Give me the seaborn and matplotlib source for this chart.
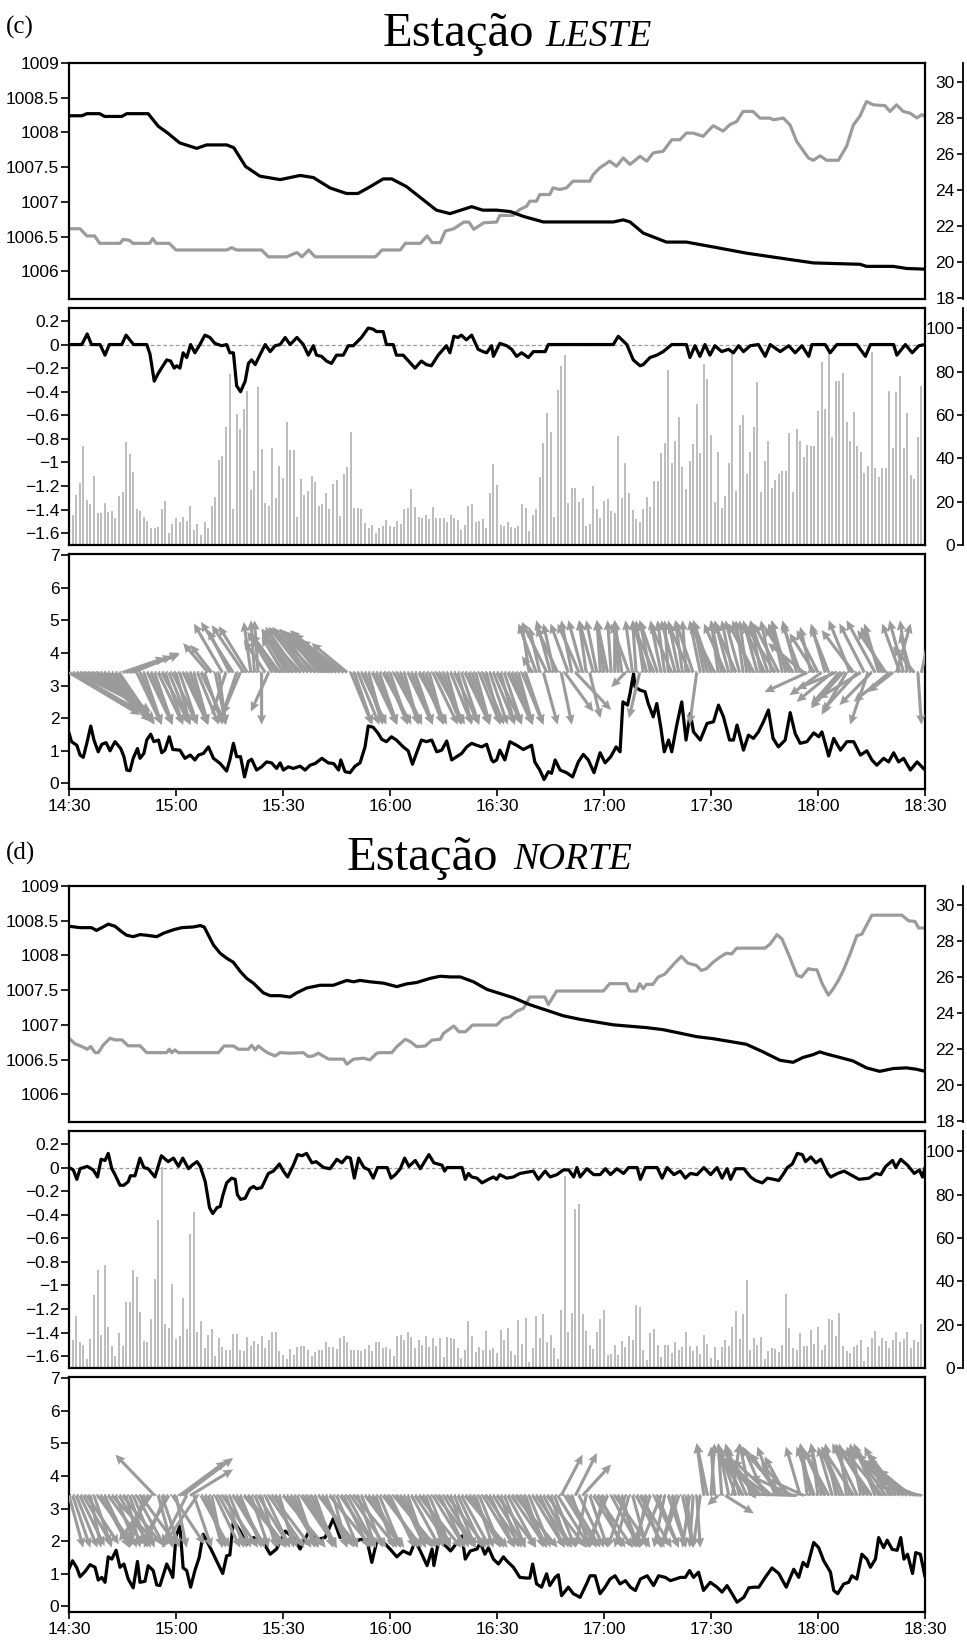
import numpy as np
import matplotlib
matplotlib.use("Agg")
import matplotlib.pyplot as plt
import seaborn as sns
from matplotlib.ticker import FuncFormatter

# ---------------------------------------------------------------- time axis
TIME_TICKS = [0, 30, 60, 90, 120, 150, 180, 210, 240]       # minutes after 14:30
TIME_LABELS = ["14:30", "15:00", "15:30", "16:00", "16:30", "17:00", "17:30", "18:00", "18:30"]
BAR_T = list(range(1, 240))            # one bar per minute
ARROW_T_EVEN = list(range(0, 240, 2))  # wind vectors on even minutes
ARROW_T_ODD = list(range(1, 240, 2))   # wind vectors on odd minutes

# ================================================================ LESTE
LESTE_P_T = [0, 3.6, 5, 8.6, 10, 14.8, 16.2, 22.2, 25, 27.7, 31, 35.8, 38.6, 44.2, 46.2, 49.5, 53.5, 59.2,
             64.8, 68.5, 73.2, 77.8, 81, 84.5, 88.1, 90.5, 94.6, 99.3, 103, 106.8, 112.9, 116, 119.9, 123.7,
             127.4, 133, 152.6, 155.4, 157.3, 161, 167.5, 173.1, 180.6, 190, 199.3, 208.7, 221.8, 223.6,
             231.1, 234.8, 240]
LESTE_P = [1008.24, 1008.24, 1008.27, 1008.27, 1008.23, 1008.23, 1008.27, 1008.27, 1008.09, 1007.99, 1007.85,
           1007.77, 1007.82, 1007.82, 1007.78, 1007.51, 1007.37, 1007.32, 1007.38, 1007.35, 1007.20, 1007.12,
           1007.12, 1007.22, 1007.33, 1007.33, 1007.22, 1007.03, 1006.88, 1006.83, 1006.93, 1006.88, 1006.88,
           1006.86, 1006.79, 1006.71, 1006.71, 1006.74, 1006.71, 1006.55, 1006.42, 1006.42, 1006.35, 1006.26,
           1006.19, 1006.12, 1006.10, 1006.07, 1006.07, 1006.04, 1006.03]

LESTE_T_T = [0, 3.1, 5, 7.2, 8.6, 14.3, 15.2, 17, 17.9, 22.6, 23.5, 24.4, 28.1, 30, 44.2, 45.6, 47, 54, 55.9,
             61, 63.9, 65.3, 67.2, 69, 85.9, 87.8, 92.9, 94.3, 98.5, 100.4, 101.8, 104.1, 105.5, 107.9, 110.7,
             112.1, 113.5, 116.3, 119.9, 120.8, 124.5, 126.4, 128.3, 129.2, 131.1, 132, 134.8, 135.7, 137.6,
             139.5, 141.3, 146, 147, 148.8, 151.6, 153.5, 155.4, 157.3, 160.1, 162, 163.8, 166.6, 169, 171.3,
             173.1, 175, 177.8, 180.6, 183.4, 185.3, 187.2, 189, 191.8, 193.7, 196.5, 197.5, 200.3, 202.2, 204,
             207.3, 208.7, 210.6, 212.4, 215.7, 218, 219.9, 221.8, 223.6, 225.5, 228.8, 230.2, 232, 233.9,
             235.8, 237.7, 239.1, 240]
LESTE_TEMP = [21.85, 21.85, 21.45, 21.45, 21.04, 21.04, 21.26, 21.2, 21.04, 21.04, 21.3, 21.04, 21.04, 20.67,
              20.67, 20.8, 20.67, 20.67, 20.29, 20.29, 20.53, 20.29, 20.67, 20.29, 20.29, 20.67, 20.67, 21.04,
              21.04, 21.45, 21.08, 21.08, 21.72, 21.85, 22.22, 22.22, 21.82, 22.18, 22.22, 22.59, 22.59, 22.92,
              23.10, 23.38, 23.38, 23.75, 23.75, 24.12, 24.03, 24.12, 24.49, 24.49, 24.86, 25.23, 25.60, 25.32,
              25.78, 25.42, 25.87, 25.60, 26.06, 26.15, 26.79, 26.79, 27.16, 27.16, 26.98, 27.57, 27.27, 27.63,
              27.80, 28.36, 28.36, 27.99, 27.99, 27.90, 27.99, 27.60, 26.70, 25.78, 25.65, 25.90, 25.65, 25.65,
              26.42, 27.60, 28.12, 28.91, 28.73, 28.68, 28.36, 28.73, 28.36, 28.27, 28.00, 28.18, 28.09]

LESTE_DP_T = [0, 3.6, 5.1, 6.3, 8.7, 10.1, 11.3, 14.8, 16, 18.1, 21.8, 22.7, 23.9, 25.1, 27.4, 28.5, 29.5, 30.2,
              31.1, 32, 33, 34.1, 35.3, 36.7, 38.1, 39.5, 40.9, 42.8, 44.2, 45.1, 46.1, 47, 48.1, 49.4, 50.3,
              51.2, 52.2, 53.5, 55, 56.4, 57.8, 59.2, 60.6, 62, 63.9, 65.7, 67.1, 68.5, 69.4, 70.8, 72.2, 73.6,
              75, 76.9, 78.3, 79.7, 82, 83.9, 85.3, 86.2, 88.1, 89, 90.9, 91.8, 93.7, 97, 98.8, 100.2, 101.6,
              103.5, 105.8, 106.8, 107.9, 109.1, 110, 111.4, 112.9, 114.7, 116.1, 117.1, 118.5, 119, 120.8,
              122.7, 124.1, 125.5, 126.9, 128.8, 130.2, 132.1, 133.5, 134.4, 152.6, 154, 156.4, 158.2, 160.1,
              161, 162.9, 164.8, 166.6, 169, 173.1, 174.1, 175.5, 176.9, 178.3, 179.7, 181.1, 183, 184.9, 186.3,
              187.7, 189.1, 191, 193.3, 195.2, 196.6, 199.4, 201.8, 203.6, 205.5, 207.4, 208.3, 212, 213.4,
              215.3, 220.9, 223.3, 224.7, 231.2, 232.1, 234.5, 236.4, 238.3, 240]
LESTE_DP = [0, 0, 0.09, 0, 0, -0.09, 0, 0, 0.08, 0, 0, -0.08, -0.31, -0.24, -0.13, -0.14, -0.20, -0.18, -0.20,
            -0.07, -0.11, 0, -0.07, 0, 0.08, 0.06, 0.01, -0.01, 0, -0.07, -0.07, -0.35, -0.40, -0.31, -0.16,
            -0.13, -0.17, -0.09, 0, -0.06, -0.01, 0, 0.06, 0, 0.06, 0, -0.09, -0.01, -0.09, -0.10, -0.14, -0.16,
            -0.09, -0.09, -0.01, -0.01, 0.06, 0.14, 0.13, 0.11, 0.11, 0, 0, -0.09, -0.09, -0.20, -0.14, -0.17,
            -0.18, -0.09, -0.01, -0.07, 0.07, 0.06, 0.08, 0.04, 0.08, -0.04, -0.06, -0.07, -0.01, -0.10, 0.01,
            -0.01, -0.04, -0.10, -0.07, -0.11, -0.06, -0.06, -0.06, 0, 0, 0.07, 0, -0.13, -0.18, -0.17, -0.11,
            -0.09, -0.06, 0, 0, -0.11, -0.01, -0.10, 0, -0.09, -0.01, -0.06, -0.04, -0.07, -0.01, -0.06, -0.01,
            0, -0.10, 0, -0.06, -0.01, -0.07, -0.01, -0.10, 0, 0, -0.07, 0, 0, -0.10, 0, 0, -0.09, 0, -0.07,
            -0.01, 0]

LESTE_BARS = [13.8, 23, 28.8, 45.8, 20.8, 18.9, 32, 14.6, 15, 19.2,
              15.4, 15.8, 12.3, 22.8, 24.3, 47.4, 41.8, 33.5, 16.6, 15.8,
              12.8, 11, 8, 8, 8.2, 16.6, 20.3, 5.4, 9.5, 12.6,
              10.8, 13, 11.2, 18, 6.9, 9.7, 4.6, 10.5, 7.7, 18,
              22.3, 39.2, 41, 54.6, 78.8, 16.6, 60.3, 53.4, 62.8, 71.2,
              25.4, 34.2, 72.8, 44.3, 19.5, 18, 44.9, 21.5, 36.6, 30.8,
              56.9, 43.8, 43.8, 13, 30.5, 23, 25, 31.8, 29.2, 18.2,
              18.9, 23.8, 16.6, 28, 30, 13.4, 32.8, 36.2, 52, 16.9,
              16.9, 16.5, 10.3, 7.7, 9.2, 5.4, 7.7, 8.9, 11.5, 8.9,
              8.5, 11.2, 9.5, 16.5, 16.9, 25.7, 17.4, 13, 12.3, 13.8,
              12, 17.4, 12.3, 12.3, 12.3, 10.8, 13.8, 12.3, 11.5, 6.9,
              9.2, 18, 18.8, 10.8, 11.2, 11.8, 8, 23.8, 37.2, 27.5,
              9.2, 8.8, 10.8, 8.5, 7.7, 8.8, 18.8, 16.9, 6.5, 13.8,
              16.5, 31.5, 46.9, 60.8, 52, 13, 71.5, 82.6, 87.7, 19.5,
              26.5, 26.2, 20, 21.5, 8.9, 9.7, 27.2, 16.6, 12.3, 20.3,
              21.1, 15.8, 15, 50.3, 21.8, 37.7, 24.2, 16.2, 11.8, 10.8,
              16.6, 22, 17.7, 29.7, 29.5, 42.6, 47.2, 80.8, 38, 48,
              59.2, 36.2, 25.7, 38.8, 46.6, 64.9, 42.6, 83.5, 76.6, 50.8,
              19.7, 42.8, 16.9, 22.8, 37.7, 89.2, 25.1, 55.4, 60, 32.6,
              43.1, 54.3, 75.4, 24.6, 38.9, 48.2, 26.5, 30, 32.8, 34.3,
              34.3, 51.5, 24.3, 53.4, 48, 40.5, 46.2, 45.7, 45.8, 61.8,
              84.6, 62.6, 89.2, 50, 75.8, 75.7, 79.5, 56.6, 48, 61.2,
              45.8, 43.1, 33.1, 36.6, 89.2, 35.7, 31.2, 35.4, 35.4, 71.2,
              44.9, 70.5, 78.2, 44.6, 60.8, 32.3, 30.3, 49.7, 73.4]

LESTE_WS_T = [0, 0.7, 2.2, 3.1, 4, 5.1, 6.1, 7, 8.2, 9.2, 10.4, 11.5, 12.9, 14.5, 15.4, 16.2, 17.1, 18, 19.2,
              19.9, 21, 21.8, 22.9, 23.8, 25.1, 26, 26.9, 28.1, 29.1, 31.1, 32.5, 34, 35.3, 36.3, 37.7, 39.1,
              40.5, 42.4, 44.2, 45.1, 46.1, 47, 48.1, 49.2, 50.3, 51.2, 52.6, 54, 55.4, 56.8, 58.2, 59.2, 60.1,
              61.5, 62.9, 64.8, 66.2, 67.6, 69, 70.9, 72.7, 74.2, 75.6, 76.2, 77.4, 78.8, 80.2, 81.6, 83, 83.9,
              85.3, 86.7, 87.7, 89, 90.4, 91.8, 93.7, 95.1, 96.3, 97.4, 98.8, 100.2, 101.7, 103.1, 104.5, 105.9,
              107.3, 108.7, 110.1, 111.5, 112.9, 114.3, 115.7, 117.1, 118.5, 119, 119.9, 120.8, 122.2, 123.6,
              125.5, 127.4, 129.7, 130.6, 132, 133.2, 134.4, 135.3, 136.3, 137.7, 139.5, 141.2, 142.8, 144.2,
              145.6, 147.2, 148.9, 150.3, 151.9, 153.4, 154.5, 155.3, 156.6, 157.3, 158.3, 158.7, 160.1, 161.5,
              162.4, 163.8, 164.8, 165.9, 166.9, 168.1, 169, 170.4, 171.8, 173, 174.2, 175.1, 177, 178.9,
              180.7, 182.1, 183.5, 185.2, 186.3, 187.3, 189.1, 190.5, 191.9, 193.3, 194.7, 196.1, 197.4, 198.9,
              200.8, 202.2, 203.6, 205, 206.9, 208.8, 210.2, 211.1, 213, 214.4, 216.3, 218.1, 220, 221.9, 223.7,
              225.1, 226.5, 228.4, 229.8, 231.2, 232.6, 234, 235.9, 237.8, 240]
LESTE_WS = [1.55, 1.28, 1.17, 0.87, 0.80, 1.28, 1.76, 1.33, 0.97, 1.20, 1.25, 1.00, 1.28, 1.07, 0.82, 0.41,
            0.39, 0.77, 1.07, 0.77, 0.92, 1.33, 1.51, 1.28, 1.33, 0.94, 1.02, 1.43, 1.04, 1.02, 0.77, 0.87,
            0.72, 0.87, 0.92, 1.12, 0.77, 0.61, 0.38, 0.72, 1.23, 0.82, 0.82, 0.20, 0.68, 0.74, 0.41, 0.51,
            0.66, 0.63, 0.46, 0.63, 0.41, 0.51, 0.46, 0.53, 0.41, 0.56, 0.61, 0.77, 0.63, 0.61, 0.41, 0.72,
            0.36, 0.33, 0.53, 0.63, 1.12, 1.76, 1.72, 1.53, 1.35, 1.28, 1.43, 1.33, 1.12, 1.00, 0.59, 0.92,
            1.33, 1.28, 1.33, 0.97, 1.02, 1.30, 0.72, 0.82, 0.92, 1.12, 1.23, 1.17, 1.12, 1.20, 0.72, 0.66,
            0.72, 1.02, 0.72, 1.28, 1.17, 1.04, 1.17, 0.66, 0.41, 0.12, 0.36, 0.31, 0.72, 0.41, 0.33, 0.20,
            0.66, 0.89, 0.72, 0.33, 0.94, 0.63, 0.82, 1.12, 0.97, 2.50, 2.40, 2.76, 3.37, 2.96, 2.86, 2.81,
            2.45, 2.04, 2.45, 1.74, 0.97, 1.33, 0.97, 1.79, 2.50, 1.33, 2.15, 1.58, 1.33, 1.84, 1.89, 2.40,
            2.04, 1.33, 1.33, 1.79, 1.02, 1.48, 1.38, 1.58, 1.89, 2.25, 1.38, 1.12, 1.33, 2.17, 1.53, 1.23,
            1.28, 1.55, 1.43, 1.58, 0.84, 1.38, 1.02, 1.28, 1.28, 0.87, 1.00, 0.72, 0.56, 0.77, 0.66, 0.94,
            0.66, 0.77, 0.41, 0.66, 0.41]

# wind vector components (dx in minutes, dy in panel units), even minutes
LESTE_U = [20, 18, 16, 17, 15, 13, 12, 10, 13, 13, 6, 7, 5, 8, 6, 4, 7, 5, 6, 5,
           -6, 2, -4, -9, -5, -8, -1, 0, -5, -7, -6, -8, -9, -10, -9, -10, -11, -12, -13, -10,
           5, 7, 4, 6, 8, 5, 7, 4, 6, 8, 5, 7, 6, 4, 7, 5, 6, 4, 6, 5,
           7, 5, 6, 4, 5, -3, -3, -7, -3, 3, -5, 10, -4, 3, -3, -2, -1, -1, -4, -2,
           -3, -4, -6, -3, -1, -4, -2, -6, -2, -3, -5, -2, -6, -3, -4, -2, -7, -3, -5, -8,
           -3, -6, -4, -10, -3, -6, -4, -10, -8, -7, -9, -12, -5, -8, -6, -10, 4, -4, -3, 1]
LESTE_V = [-1.3, -1.0, -0.9, -1.2, -1.5, -1.4, -1.5, -1.6, 0.5, 0.6, -1.6, -1.6, -1.6, -1.6, -1.6, -1.6, -1.6,
           -1.6, -1.6, -1.6,
           0.85, -1.6, -1.3, 1.55, -1.3, 1.42, 1.6, -1.6, -1.2, 1.2, 1.1, 1.3, 1.4, 1.4, 1.35, 1.3, 1.2, 1.3,
           1.2, 0.9,
           -1.6, -1.6, -1.6, -1.6, -1.6, -1.6, -1.6, -1.6, -1.6, -1.6, -1.6, -1.6, -1.6, -1.6, -1.6, -1.6,
           -1.6, -1.6, -1.6, -1.6,
           -1.6, -1.6, -1.6, -1.6, -1.6, 0.5, 1.4, 1.55, 1.5, -1.6, 1.5, -1.15, 1.6, -1.4, 1.6, 1.6, 1.6, 1.6,
           -0.45, 1.6,
           -1.4, 1.6, 1.5, 1.6, 1.6, 1.6, 1.6, 1.5, -1.6, 1.6, 1.6, 1.6, 1.5, 1.6, 1.6, 1.6, 1.5, 1.6, 1.6, 1.4,
           1.6, 1.5, 1.6, 0.9, 1.4, 1.3, 1.5, -0.9, -1.0, -1.3, 1.3, -0.8, -1.6, 1.6, 1.4, -0.9, 1.5, 1.6, 1.2,
           -1.6]
# odd minutes
LESTE_U_ODD = [19, 17, 16, 16, 14, 12, 11, 12, 14, 7, 5, 6, 7, 5, 7, 5, 6, 4, 7, -7,
               3, -8, -6, -4, -9, -2, -1, -6, -7, -8, -7, -9, -11, -10, -11, -12, -11, -14, -12, 6,
               6, 5, 7, 5, 6, 8, 5, 7, 5, 6, 4, 8, 5, 6, 4, 7, 5, 6, 4, 6,
               4, 7, 5, 6, -2, -5, 4, -4, -6, 8, -3, -6, -2, -4, -1, -3, 0, -2, -5, -1,
               -2, -3, -5, -2, -6, -3, -1, -5, -3, -4, -7, -3, -4, -6, -2, -5, -4, -6, -3, -7,
               -4, -8, -5, -12, -7, -9, -5, -11, -9, -6, -10, -7, -9, -4, -8, -7, -5, -2, -6, 3]
LESTE_V_ODD = [-1.2, -0.95, -1.1, -1.4, -1.5, -1.45, -1.55, 0.45, 0.55, -1.6, -1.6, -1.6, -1.6, -1.6, -1.6,
               -1.6, -1.6, -1.6, -1.6, 0.9,
               -1.6, 1.5, 1.3, -1.3, 1.45, 1.55, 1.6, 1.0, 1.25, 1.2, 1.3, 1.35, 1.3, 1.4, 1.25, 1.3, 1.2, 1.25,
               1.0, -1.6,
               -1.6, -1.6, -1.6, -1.6, -1.6, -1.6, -1.6, -1.6, -1.6, -1.6, -1.6, -1.6, -1.6, -1.6, -1.6, -1.6,
               -1.6, -1.6, -1.6, -1.6,
               -1.6, -1.6, -1.6, -1.6, 1.5, 1.5, -1.6, 1.6, 1.4, -1.2, 1.6, 1.5, 1.6, 1.6, 1.6, 1.6, 1.6, 1.6,
               1.5, 1.6,
               1.6, 1.6, 1.6, 1.6, 1.5, 1.6, 1.6, 1.6, 1.6, 1.6, 1.5, 1.6, 1.6, 1.5, 1.6, 1.6, 1.6, 1.5, 1.6, 1.5,
               1.6, 1.4, 1.5, -0.6, 1.2, -0.7, 1.4, -0.5, -1.1, 1.6, -1.2, 1.5, -1.0, 1.5, 1.3, -0.6, 1.5, 1.6,
               0.8, 1.5]

# ================================================================ NORTE
NORTE_P_T = [0, 3.1, 6.3, 7.7, 9.2, 11, 12.9, 14.8, 16.2, 18, 19.9, 21.8, 24.6, 26.5, 29.3, 31.6, 34.9, 36.8,
             37.9, 39.1, 40.5, 42.4, 44.2, 46.1, 48, 49.8, 51.7, 54.5, 56.4, 59.2, 62, 63.8, 66.6, 70.4, 74.1,
             77.9, 79.8, 81.6, 84.4, 88.2, 91.9, 94.7, 97.5, 101.3, 104.1, 106.9, 109.7, 113.4, 117.2, 120.9,
             124.6, 129.2, 133.9, 138.6, 143.2, 147.9, 152.6, 157.2, 161.9, 166.6, 171.3, 175.9, 180.6, 185.3,
             189.9, 194.6, 199.3, 203, 205.8, 208.6, 210.5, 212.4, 216.1, 219.8, 223.6, 227.3, 231.1, 234.8,
             237.6, 240]
NORTE_P = [1008.42, 1008.40, 1008.40, 1008.36, 1008.40, 1008.45, 1008.42, 1008.34, 1008.29, 1008.27, 1008.30,
           1008.29, 1008.27, 1008.32, 1008.37, 1008.40, 1008.41, 1008.43, 1008.41, 1008.29, 1008.15, 1008.03,
           1007.96, 1007.90, 1007.77, 1007.67, 1007.60, 1007.46, 1007.42, 1007.42, 1007.40, 1007.46, 1007.53,
           1007.57, 1007.57, 1007.64, 1007.62, 1007.64, 1007.62, 1007.60, 1007.55, 1007.59, 1007.61, 1007.67,
           1007.70, 1007.69, 1007.69, 1007.62, 1007.51, 1007.45, 1007.39, 1007.29, 1007.21, 1007.13, 1007.08,
           1007.04, 1007.00, 1006.98, 1006.96, 1006.93, 1006.88, 1006.83, 1006.80, 1006.76, 1006.72, 1006.61,
           1006.49, 1006.46, 1006.53, 1006.57, 1006.61, 1006.58, 1006.53, 1006.48, 1006.38, 1006.33, 1006.37,
           1006.38, 1006.36, 1006.33]

NORTE_T_T = [0, 1.7, 3.6, 5.1, 6.1, 7.3, 8.2, 9.6, 11.5, 12.9, 14.8, 16.6, 19.9, 21.8, 27.4, 28.1, 28.8, 29.7,
             30.7, 41.9, 43.5, 46.1, 47.5, 50.3, 51.2, 52.2, 53.1, 54.5, 55.9, 57.8, 59.2, 62, 65.7, 67.1, 68.5,
             69.9, 72.8, 77, 77.9, 79.8, 82.6, 84.4, 86.3, 87.3, 90.5, 91.9, 94.3, 95.7, 97.5, 99.9, 101.8,
             104.1, 105, 107.9, 109.3, 111.2, 113.1, 115.2, 119.9, 121.8, 123.6, 125.5, 127.4, 129.2, 133.4,
             134.4, 136.7, 149.8, 151.6, 156.3, 157.2, 159.1, 160, 161, 161.9, 163.7, 165.2, 167, 168.4, 169.8,
             171.7, 173.5, 175.9, 177.3, 178.7, 180.6, 182.5, 184.3, 185.8, 187.2, 195.1, 196.6, 198.5, 199.9,
             201.7, 204.1, 205.4, 207.3, 208.7, 209.7, 211.1, 212.9, 214.3, 215.7, 217.1, 219, 220.9, 222.3,
             225.1, 233.5, 235.4, 237.2, 238.2, 240]
NORTE_TEMP = [22.60, 22.29, 22.14, 21.99, 22.14, 21.80, 21.80, 22.22, 22.60, 22.51, 22.51, 22.18, 22.18, 21.80,
              21.80, 21.99, 21.80, 21.95, 21.80, 21.80, 22.17, 22.17, 21.99, 21.99, 22.21, 21.95, 22.17, 21.95,
              21.77, 21.62, 21.80, 21.77, 21.80, 21.58, 21.62, 21.77, 21.44, 21.44, 21.16, 21.44, 21.49, 21.40,
              21.77, 21.80, 21.80, 22.13, 22.54, 22.41, 22.13, 22.17, 22.50, 22.54, 22.87, 23.28, 22.96, 22.96,
              23.33, 23.33, 23.33, 23.70, 23.79, 24.10, 24.25, 24.89, 24.89, 24.47, 25.22, 25.22, 25.63, 25.63,
              25.22, 25.22, 25.63, 25.35, 25.59, 25.59, 26.00, 26.15, 26.46, 26.77, 27.14, 26.77, 26.64, 26.36,
              26.46, 26.82, 27.10, 27.32, 27.28, 27.60, 27.60, 27.83, 28.35, 28.11, 27.28, 26.09, 26.00, 26.46,
              26.40, 26.40, 25.66, 24.99, 25.35, 25.81, 26.36, 27.28, 28.29, 28.38, 29.43, 29.43, 29.12, 29.08,
              28.72, 28.72]

NORTE_DP_T = [0, 1.2, 2.2, 3.1, 5.1, 6.8, 8, 9, 10.1, 11, 12, 12.9, 14.3, 15.4, 16.6, 17.2, 18.5, 19.9, 21,
              22.2, 24.1, 25.9, 27.8, 29.3, 30.7, 31.9, 33.5, 34.5, 35.9, 36.8, 38.2, 39.4, 40.3, 41.5, 42.4,
              43.1, 44.2, 45.6, 46.6, 47.2, 48.1, 49.4, 50.7, 51.7, 52.6, 54, 55.9, 57.3, 59, 60.1, 61.3, 62.9,
              64.1, 65.3, 66.6, 68.1, 69.3, 71.4, 73.2, 75.1, 76.5, 77.9, 78.9, 80, 81.2, 82.7, 84.1, 85.3,
              86.5, 89.2, 90.3, 91.5, 92.9, 94.1, 95.3, 97.1, 98.5, 100.9, 102.3, 104.6, 105.3, 106, 110.2,
              111.1, 112, 112.9, 114.4, 115.8, 117.6, 119, 119.9, 120.8, 122.7, 124.6, 126.4, 128.3, 130.2,
              131.6, 133.5, 134.9, 136.8, 138.6, 140.1, 141.5, 142.4, 143.3, 145.2, 147.1, 148.9, 150.4, 151.8,
              153.6, 155.5, 156.9, 159.3, 160.2, 161.6, 164.9, 166.3, 167.7, 169.6, 171.4, 172.8, 174.2, 176.1,
              178, 179.9, 181.7, 183.1, 184.5, 185.5, 186.9, 189.2, 191.1, 192.5, 194.4, 195.8, 197.6, 199,
              200.4, 201.4, 202.8, 204.2, 205.6, 206.5, 208, 209.4, 210.8, 212.7, 213.6, 215.5, 217.3, 219.7,
              221.5, 224.3, 226.2, 227.6, 229, 230.9, 231.8, 233.2, 235.1, 237, 238.4, 239.3, 240]
NORTE_DP = [0, -0.02, -0.10, -0.01, 0.01, -0.02, -0.08, 0.07, 0.06, 0.12, -0.01, -0.06, -0.15, -0.15, -0.12,
            -0.07, -0.07, 0.08, 0, -0.01, -0.08, 0.10, 0.05, 0.08, 0.01, 0.08, -0.01, 0.02, 0.05, 0.01, -0.12,
            -0.34, -0.39, -0.34, -0.33, -0.24, -0.13, -0.09, -0.10, -0.23, -0.27, -0.26, -0.18, -0.16, -0.18,
            -0.17, -0.05, -0.03, 0.03, -0.03, -0.08, 0.02, 0.11, 0.10, 0.12, 0.04, 0.05, 0, -0.01, 0.07, 0.04,
            0.09, 0.08, -0.09, 0.08, 0, -0.02, -0.09, 0, 0, -0.09, -0.06, -0.01, 0.08, 0.01, 0.06, -0.01, 0.11,
            0.04, 0.02, -0.03, 0, 0, -0.10, -0.05, -0.08, -0.09, -0.13, -0.10, -0.08, -0.10, -0.06, -0.09,
            -0.08, -0.05, -0.04, -0.03, -0.10, -0.03, -0.08, -0.06, -0.02, -0.02, -0.08, 0, -0.08, -0.01,
            -0.06, -0.06, -0.01, -0.06, -0.01, -0.05, 0, 0, -0.10, 0, 0, -0.09, 0, -0.06, -0.03, -0.09, -0.05,
            -0.06, 0, -0.06, 0, -0.09, -0.01, -0.10, -0.01, -0.01, -0.08, -0.11, -0.13, -0.09, -0.10, -0.11,
            -0.05, 0, 0.03, 0.12, 0.11, 0.05, 0.09, 0.04, 0.07, -0.05, -0.08, -0.05, -0.03, -0.07, -0.10,
            -0.09, -0.05, -0.06, 0.01, 0.06, 0, 0.07, 0.02, -0.05, -0.02, -0.08, 0]

NORTE_BARS = [13.1, 24.2, 11.9, 10.8, 4.2, 13.4, 33.5, 45.2, 15.1, 47.5,
              19, 10.3, 5.7, 16.2, 10.3, 30.4, 30.4, 45.1, 42.1, 25.9,
              12.3, 12, 22.8, 40.9, 68.2, 92.9, 20.5, 18.5, 38.9, 13.6,
              15, 32.4, 18.1, 61.7, 71.8, 16.7, 21.6, 9.3, 15.4, 18.2,
              5.4, 13.9, 9.7, 8.5, 8.2, 15.9, 15.7, 8.5, 7.7, 14.4,
              10, 12.3, 11.3, 15, 9.3, 13.1, 16.5, 16.5, 7.7, 6.2,
              4.2, 8.8, 6.2, 9.7, 10.3, 10, 8.5, 5.4, 7.4, 8.5,
              8.2, 12, 9.6, 9.6, 8.8, 13.9, 15, 11.9, 8.2, 8.2,
              8.5, 7.7, 8.8, 10.5, 7.7, 12, 12, 9.3, 9.7, 8.8,
              5.4, 15, 15.1, 12.8, 16.7, 14.2, 9.3, 13.1, 10.8, 14.7,
              9.7, 13.9, 10.3, 13.9, 5.1, 14.2, 13.9, 13.4, 9.3, 4.6,
              8.5, 21.6, 15, 7.3, 9.7, 8.5, 17.3, 8.2, 9.3, 6.9,
              17.4, 13.1, 18.5, 7.7, 5.9, 22.1, 11.3, 23.1, 3, 9.3,
              23.9, 13.9, 24.7, 12, 15.4, 9.3, 4.2, 27, 88.7, 16.7,
              25.2, 73.6, 75.6, 24.7, 17.3, 10.8, 8.8, 16.5, 22.4, 27,
              6.2, 6.5, 10.5, 6.2, 12.3, 9.6, 15, 12.8, 29.3, 28.2,
              8.5, 3.5, 16.2, 18.2, 10.5, 5.1, 10.8, 10.8, 6.9, 11.9,
              8.5, 9.6, 16.7, 10.3, 7.7, 10, 6.5, 15.1, 11.3, 4.6,
              9.6, 3.5, 9.6, 13.1, 10.3, 19, 26.2, 13.6, 24.7, 40.4,
              8.2, 13.9, 10.8, 14.4, 4.2, 7.7, 9.3, 9, 7.3, 10.8,
              34, 18.5, 9.3, 8.5, 16.2, 10.3, 10.3, 17.7, 11.3, 19,
              8.5, 10.8, 22.7, 22.1, 15, 25.2, 10.3, 7.7, 6.9, 9.6,
              10.8, 13.1, 3.1, 9.6, 13.9, 17, 10.3, 13.9, 12.3, 9.3,
              13.1, 16.7, 11.9, 13.4, 16.7, 9.3, 12.8, 11.9, 20.1]

NORTE_WS_T = [0, 1, 2.2, 3.1, 4.5, 5.9, 7.3, 8.2, 9.2, 10.1, 11, 12, 13.2, 14.3, 15.4, 16.6, 18, 19.2, 19.9,
              21.3, 22.2, 23.6, 24.6, 25.5, 27.4, 28.3, 29.1, 30, 31.1, 32, 33, 34.1, 35.3, 36.5, 37.6, 39.1,
              40.5, 41.8, 43.1, 44.2, 45.1, 46.1, 48, 49.8, 51.7, 54.5, 56.4, 58.2, 60.6, 62.9, 64.8, 67.1,
              69.4, 71.8, 74.1, 76, 77.8, 79.7, 81.6, 83.5, 84.9, 86.3, 88.2, 90, 91.9, 93.7, 95.6, 97.1, 98.5,
              100.4, 101.8, 102.3, 103.7, 105.1, 107, 108.8, 110.2, 111.1, 112.5, 114.4, 115.3, 116.6, 117.6,
              119, 120.4, 121.8, 122.7, 124.6, 126.4, 128.3, 129.2, 130, 131.1, 132.5, 133.9, 134.8, 136.3,
              137.2, 138.1, 140, 141.4, 143.3, 145.1, 146.1, 147.5, 148.9, 150.3, 151.7, 153.1, 154.5, 156,
              157.4, 158.8, 160.2, 162.1, 163.9, 165.3, 167.2, 168.6, 170, 171.4, 172.8, 174, 175.1, 176.5,
              177.9, 179.8, 181.7, 183.1, 184.5, 185.9, 187.3, 189.2, 190.6, 192, 193.4, 195.2, 197.1, 199,
              201.1, 203.2, 204.6, 205.8, 207, 208.8, 210.2, 211.6, 213.5, 214.4, 215.5, 217.2, 218.6, 219.5,
              220.9, 222.3, 223.7, 224.7, 226.1, 227, 228.4, 229.4, 230.8, 232.2, 233.2, 234.1, 235.1, 236.5,
              237.4, 238.7, 240]
NORTE_WS = [1.15, 1.40, 1.18, 0.91, 1.07, 1.28, 1.20, 0.81, 0.89, 0.74, 1.52, 1.45, 1.72, 1.20, 1.30, 0.84,
            0.57, 1.38, 0.74, 0.77, 1.25, 1.10, 0.66, 0.64, 1.30, 1.10, 0.89, 2.16, 2.46, 1.18, 1.10, 0.59,
            1.10, 1.50, 2.21, 1.91, 1.60, 1.30, 1.01, 1.55, 1.58, 2.62, 2.31, 1.91, 2.11, 1.96, 1.60, 1.76,
            2.31, 2.11, 1.76, 2.26, 2.05, 2.11, 2.69, 2.11, 2.26, 1.96, 2.05, 2.05, 1.35, 2.00, 1.96, 1.76,
            1.52, 1.70, 1.60, 2.00, 1.70, 1.25, 1.76, 1.25, 2.05, 1.91, 1.70, 1.96, 2.16, 1.45, 1.70, 1.76,
            1.96, 1.60, 1.80, 1.45, 1.30, 1.52, 1.40, 1.20, 0.89, 0.87, 0.87, 1.30, 0.69, 0.59, 1.00, 0.64,
            0.89, 0.97, 0.33, 0.59, 0.39, 0.28, 0.69, 0.94, 0.94, 0.39, 0.59, 0.84, 0.94, 0.69, 0.79, 0.59,
            0.49, 0.84, 0.94, 0.64, 0.94, 0.89, 0.79, 0.84, 0.89, 0.89, 1.10, 0.89, 1.05, 0.49, 0.74, 0.59,
            0.44, 0.64, 0.39, 0.13, 0.28, 0.57, 0.59, 0.59, 0.89, 1.18, 1.01, 0.59, 1.14, 0.89, 1.35, 1.22,
            1.96, 1.80, 1.40, 1.05, 0.49, 0.39, 0.69, 0.74, 0.94, 0.84, 1.60, 1.45, 1.20, 1.45, 2.11, 1.80,
            2.03, 1.75, 1.72, 2.11, 1.45, 1.60, 1.01, 1.65, 1.60, 0.91]

NORTE_U = [4, 6, 8, 3, 10, 7, 12, 9, 4, 6, 10, -6, -11, 5, -8, 3, 14, 12, -10, 6,
           3, 8, 5, 9, 6, 11, 7, 4, 10, 6, 12, 8, 5, 9, 7, 11, 6, 4, 10, 8,
           12, 6, 9, 5, 11, 7, 10, 6, 8, 12, 5, 9, 7, 11, 6, 8, 10, 5, 9, 7,
           11, 6, 10, 8, 5, 9, 7, 11, 6, 6, 9, 6, 8, 5, 10, -4, 8, 6, -5, 4,
           9, -3, 7, -6, 5, -4, 3, -2, 1, -2, 1, -3, 8, 2, -4, -6, -8, -9, -12, -5,
           -10, -8, -14, -10, -3, -2, -6, -4, -5, -2, -9, -3, -8, -6, -10, -7, -8, -11, -9, -12]
NORTE_V = [-1.6, -1.6, -1.5, -1.6, -1.5, -1.6, -1.4, -1.6, -1.6, -1.6, -1.5, -1.4, 1.25, -1.6, -1.5, -1.6,
           1.15, 0.8, -1.6, -1.6,
           -1.6, -1.6, -1.6, -1.6, -1.6, -1.6, -1.6, -1.6, -1.6, -1.6, -1.6, -1.6, -1.6, -1.6, -1.6, -1.6,
           -1.6, -1.6, -1.6, -1.6,
           -1.6, -1.6, -1.6, -1.6, -1.6, -1.6, -1.6, -1.6, -1.6, -1.6, -1.6, -1.6, -1.6, -1.6, -1.6, -1.6,
           -1.6, -1.6, -1.6, -1.6,
           -1.6, -1.6, -1.6, -1.6, -1.6, -1.6, -1.6, -1.6, -1.6, 1.25, -1.6, 1.3, 0.95, -1.6, -1.6, -1.6, -1.6,
           -1.6, -1.6, -1.6,
           -1.6, -1.6, -1.6, -1.6, -1.6, -1.6, -1.6, -1.6, -1.6, 1.6, 1.6, -0.3, -0.55, 1.6, 1.6, 1.5, 1.4,
           1.1, 1.0, 1.5,
           1.3, 1.0, 0.05, 0.5, 1.6, 1.6, 1.4, 1.5, 1.4, 1.6, 1.5, 1.6, 1.5, 1.6, 1.3, 1.5, 1.2, 1.1, 0.8, 0.5]
NORTE_U_ODD = [5, 7, 9, 5, 8, 10, 6, 11, 5, 8, -4, -9, 4, -6, 9, 13, -7, 5, 8, 4,
               7, 10, 6, 8, 12, 5, 9, 7, 11, 4, 9, 6, 10, 8, 5, 9, 12, 6, 7, 10,
               5, 11, 8, 6, 9, 12, 7, 5, 10, 8, 6, 11, 9, 5, 7, 12, 8, 6, 10, 9,
               5, 8, 12, 7, 6, 10, 8, 5, 9, 9, 5, 7, -3, 9, 6, -6, 10, 4, -4, 8,
               5, -5, 6, -3, 4, -5, 2, -1, -2, -3, -1, -1, -3, -5, -7, -3, -10, -6, -11, -8,
               -6, -12, -4, -2, -5, -3, -7, -3, -6, -4, -7, -5, -9, -7, -9, -10, -9, -12, -10, -13]
NORTE_V_ODD = [-1.6, -1.55, -1.5, -1.6, -1.6, -1.5, -1.6, -1.5, -1.6, -1.6, -1.6, -1.4, -1.6, -1.6, -1.5, 1.05,
               -1.5, -1.6, -1.6, -1.6,
               -1.6, -1.6, -1.6, -1.6, -1.6, -1.6, -1.6, -1.6, -1.6, -1.6, -1.6, -1.6, -1.6, -1.6, -1.6, -1.6,
               -1.6, -1.6, -1.6, -1.6,
               -1.6, -1.6, -1.6, -1.6, -1.6, -1.6, -1.6, -1.6, -1.6, -1.6, -1.6, -1.6, -1.6, -1.6, -1.6, -1.6,
               -1.6, -1.6, -1.6, -1.6,
               -1.6, -1.6, -1.6, -1.6, -1.6, -1.6, -1.6, -1.6, -1.6, -1.6, -1.6, -1.6, -1.6, -1.6, -1.6, -1.6,
               -1.6, -1.6, -1.6, -1.6,
               -1.6, -1.6, -1.6, -1.6, -1.6, -1.6, -1.6, -1.6, -1.6, 1.6, 1.5, 1.6, 1.6, 1.5, 1.4, 1.6, 1.2, 1.5,
               1.1, 1.3,
               1.2, 0.6, 1.5, 1.6, 1.5, 1.6, 1.4, 1.6, 1.5, 1.6, 1.6, 1.5, 1.4, 1.5, 1.4, 1.3, 1.3, 0.9, 0.6, 0.3]

# ---------------------------------------------------------------- styling
sns.set_style("ticks")
plt.rcParams["font.family"] = ["Liberation Sans", "DejaVu Sans"]
plt.rcParams["axes.unicode_minus"] = True
plt.rcParams["text.color"] = "black"

W, H = 967, 1642
LEFT, RIGHT = 69, 925
GRAY_LINE = "#9b9b9b"
GRAY_BAR = "#ababab"
TICK_SIZE = 12.5
FRAME_LW = 1.6
fig = plt.figure(figsize=(W / 100, H / 100), dpi=100)


def fmt(v, pos):
    return f"{round(v, 3):g}".replace("-", "\u2212")


def panel(top, bottom):
    ax = fig.add_axes([LEFT / W, 1 - bottom / H, (RIGHT - LEFT) / W, (bottom - top) / H])
    for sp in ax.spines.values():
        sp.set_visible(True)
        sp.set_linewidth(FRAME_LW)
        sp.set_color("black")
    ax.set_xlim(0, 240)
    ax.tick_params(axis="x", bottom=False, labelbottom=False, top=False)
    ax.tick_params(axis="y", direction="out", length=5.5, width=1.2, pad=1.5,
                   labelsize=TICK_SIZE, colors="black")
    ax.yaxis.set_major_formatter(FuncFormatter(fmt))
    return ax


def outer_axis(ax, lim, ticks):
    ax2 = ax.twinx()
    for sp in ax2.spines.values():
        sp.set_visible(False)
    ax2.spines["left"].set_visible(True)
    ax2.spines["left"].set_position(("axes", 1.0444))
    ax2.spines["left"].set_linewidth(1.3)
    ax2.spines["left"].set_color("black")
    ax2.yaxis.tick_left()
    ax2.set_ylim(*lim)
    ax2.set_yticks(ticks)
    ax2.yaxis.set_major_formatter(FuncFormatter(fmt))
    ax2.tick_params(axis="y", direction="out", length=4.5, width=1.2, pad=1.5,
                    labelsize=TICK_SIZE, colors="black")
    ax.set_zorder(ax2.get_zorder() + 1)
    ax.patch.set_visible(False)
    return ax2


def line(ax, x, y, color, lw=2.3, z=3):
    sns.lineplot(x=x, y=y, ax=ax, color=color, linewidth=lw, sort=False, zorder=z,
                 estimator=None)
    ax.set_xlabel("")
    ax.set_ylabel("")


def station(y0, name, letter, p_t, p, t_t, temp, dp_t, dp, bars, ws_t, ws, u, v, u_odd, v_odd,
            title_x, name_x, letter_y):
    # titles
    fig.text(title_x / W, 1 - (y0 - 16.5) / H, "Estação", family="Liberation Serif",
             size=35, va="baseline", ha="left", color="black")
    fig.text(name_x / W, 1 - (y0 - 17) / H, name, family="Liberation Serif", style="italic",
             size=27, va="baseline", ha="left", color="black")
    fig.text(6 / W, 1 - letter_y / H, letter, family="Liberation Serif", size=18,
             va="baseline", ha="left", color="black")

    # pressure and temperature
    ax = panel(y0, y0 + 236)
    ax2 = outer_axis(ax, (17.95, 31.05), [18, 20, 22, 24, 26, 28, 30])
    line(ax2, t_t, temp, GRAY_LINE)
    line(ax, p_t, p, "black")
    ax.set_ylim(1005.6, 1009)
    ax.set_yticks([1006, 1006.5, 1007, 1007.5, 1008, 1008.5, 1009])
    ax.set_xlim(0, 240)

    # pressure tendency and bars
    ax = panel(y0 + 245, y0 + 482)
    ax2 = outer_axis(ax, (0, 109.4), [0, 20, 40, 60, 80, 100])
    ax2.vlines(BAR_T, 0, bars, color=GRAY_BAR, linewidth=1.1)
    ax.axhline(0, color="#9a9a9a", linewidth=0.9, linestyle=(0, (3, 2)), zorder=1)
    line(ax, dp_t, dp, "black")
    ax.set_ylim(-1.70, 0.31)
    ax.set_yticks([-1.6, -1.4, -1.2, -1.0, -0.8, -0.6, -0.4, -0.2, 0, 0.2])
    ax.set_xlim(0, 240)

    # wind speed and direction
    ax = panel(y0 + 491, y0 + 726)
    line(ax, ws_t, ws, "black", z=2)
    ax.axhline(3.4, color="#a6a6a6", linewidth=1.4, linestyle=(0, (1, 1)), zorder=2.5)
    arrow_t = ARROW_T_EVEN + ARROW_T_ODD
    arrow_u = list(u) + list(u_odd)
    arrow_v = list(v) + list(v_odd)
    ax.quiver(arrow_t, np.full(len(arrow_t), 3.4), arrow_u, arrow_v, angles="xy",
              scale_units="xy", scale=1, color=GRAY_LINE, width=0.0036, headwidth=3.0,
              headlength=3.2, headaxislength=2.9, zorder=3)
    ax.set_ylim(-0.17, 7.03)
    ax.set_yticks(range(8))
    ax.set_xlim(0, 240)
    ax.set_xticks(TIME_TICKS)
    ax.set_xticklabels(TIME_LABELS)
    ax.tick_params(axis="x", bottom=True, labelbottom=True, direction="out", length=5,
                   width=1.2, pad=2, labelsize=TICK_SIZE, colors="black")


station(63, "LESTE", "(c)", LESTE_P_T, LESTE_P, LESTE_T_T, LESTE_TEMP, LESTE_DP_T, LESTE_DP,
        LESTE_BARS, LESTE_WS_T, LESTE_WS, LESTE_U, LESTE_V, LESTE_U_ODD, LESTE_V_ODD, 383, 545, 34)
station(886, "NORTE", "(d)", NORTE_P_T, NORTE_P, NORTE_T_T, NORTE_TEMP, NORTE_DP_T, NORTE_DP,
        NORTE_BARS, NORTE_WS_T, NORTE_WS, NORTE_U, NORTE_V, NORTE_U_ODD, NORTE_V_ODD, 347, 513, 860)

fig.savefig("out.png", dpi=100)
